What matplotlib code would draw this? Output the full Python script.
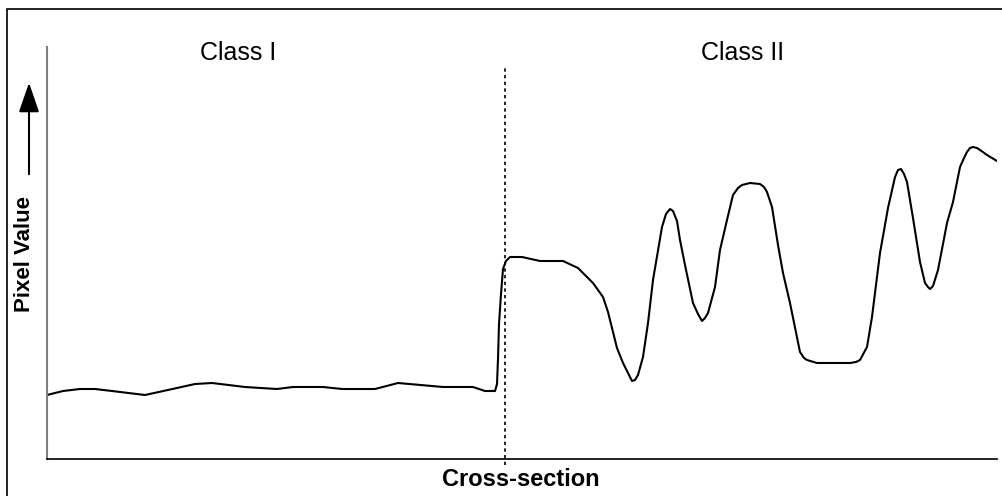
import matplotlib
matplotlib.use("Agg")
import matplotlib.pyplot as plt
from matplotlib.patches import Rectangle, FancyArrowPatch

plt.rcParams['font.family'] = ['Liberation Sans', 'DejaVu Sans']

# profile: position along cross-section, pixel value
pos = [47, 63, 80, 95, 112, 145, 177, 195, 212, 245, 277, 293, 323, 342, 375,
       398, 443, 473, 485, 495, 497, 498, 499, 501, 503, 506, 510, 522, 540,
       563, 578, 593, 603, 608, 617, 623, 628, 632, 635, 638, 643, 648, 653,
       662, 666, 670, 673, 677, 680, 685, 693, 698, 702, 705, 708, 715, 720,
       727, 733, 738, 742, 750, 760, 764, 767, 772, 778, 783, 790, 800, 804,
       807, 817, 850, 856, 860, 867, 872, 880, 888, 895, 898, 901, 904, 907,
       913, 920, 925, 928, 930, 933, 938, 947, 953, 960, 964, 967, 970, 973,
       977, 980, 987, 997]
val = [64, 68, 70, 70, 68, 64, 71, 75, 76, 72, 70, 72, 72, 70, 70,
       76, 72, 72, 68, 68, 75, 100, 135, 165, 190, 198, 202, 202, 198,
       198, 191, 176, 162, 147, 111, 96, 86, 78, 79, 84, 102, 136, 179,
       232, 245, 250, 248, 238, 219, 194, 156, 145, 138, 141, 146, 172, 209,
       239, 264, 271, 274, 276, 275, 272, 267, 252, 214, 186, 156, 107, 101,
       99, 96, 96, 97, 99, 112, 142, 206, 251, 282, 289, 290, 285, 277,
       241, 197, 176, 172, 170, 173, 189, 236, 257, 292, 301, 307, 311, 312,
       311, 309, 304, 298]

boundary = 505
class_names = ["Class I", "Class II"]
class_x = [238, 743]

fig = plt.figure(figsize=(10.03, 4.96), dpi=100)
ax = fig.add_axes([47/1003, 1 - 459/496, (997-47)/1003, (459-47)/496])

ax.plot(pos, val, color="black", lw=1.5, solid_joinstyle="round",
        solid_capstyle="round")
ax.set_xlim(47, 997)
ax.set_ylim(0, 412)

# dotted class boundary, reaching a little under the axis
ax.plot([boundary, boundary], [-6, 459-68], color="black", lw=1.2,
        linestyle=(0, (2, 2)), clip_on=False)

for name, cx in zip(class_names, class_x):
    ax.text(cx, 459-53, name, ha="center", va="center", fontsize=18)

ax.set_xticks([])
ax.set_yticks([])
for s in ["top", "right"]:
    ax.spines[s].set_visible(False)
ax.spines["left"].set_color("#808080")
ax.spines["left"].set_linewidth(1.5)
ax.spines["bottom"].set_color("black")
ax.spines["bottom"].set_linewidth(1.2)

fig.text(521/1003, 1 - 480/496, "Cross-section", ha="center", va="center",
         fontsize=17, fontweight="bold")
fig.text(25/1003, 1 - 254/496, "Pixel Value", ha="center", va="center",
         rotation=90, fontsize=16, fontweight="bold")
fig.patches.append(FancyArrowPatch(
    (29/1003, 1 - 177/496), (29/1003, 1 - 80/496), transform=fig.transFigure,
    arrowstyle="-|>,head_length=1.3,head_width=0.45", mutation_scale=14,
    color="black", lw=1.5))

# outer frame of the figure (only left and top edges fall inside the image)
fig.patches.append(Rectangle((7/1003, -0.1), 1.2, 1.1 - 9/496,
                             transform=fig.transFigure, fill=False,
                             edgecolor="black", lw=1.2))

fig.savefig("out.png", dpi=100)
